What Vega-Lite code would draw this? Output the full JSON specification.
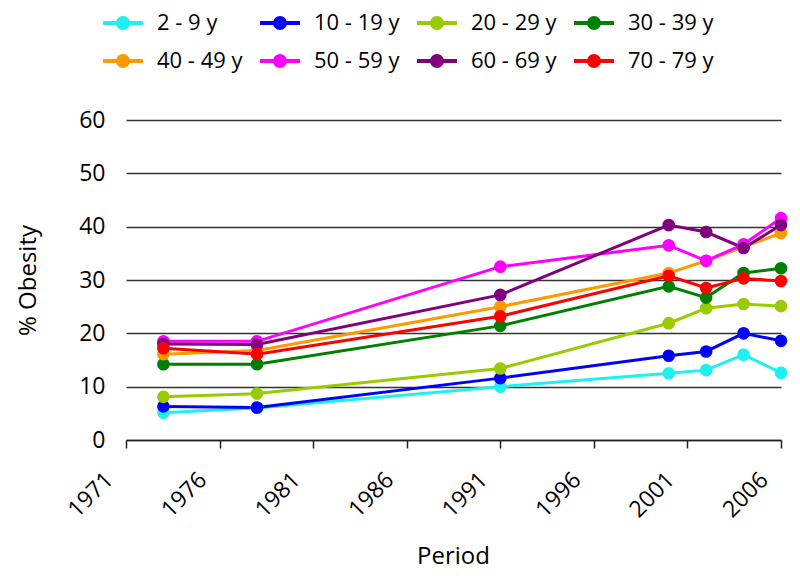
{
  "$schema": "https://vega.github.io/schema/vega-lite/v6.json",
  "width": 655,
  "height": 320,
  "autosize": "none",
  "padding": {"left": 126, "top": 120, "right": 19, "bottom": 147},
  "background": "white",
  "config": {
    "font": "Open Sans",
    "view": {"stroke": null}
  },
  "data": {
    "values": [
      {"period": 1973, "group": "2 - 9 y", "obesity": 5.1},
      {"period": 1978, "group": "2 - 9 y", "obesity": 6.0},
      {"period": 1991, "group": "2 - 9 y", "obesity": 10.0},
      {"period": 2000, "group": "2 - 9 y", "obesity": 12.5},
      {"period": 2002, "group": "2 - 9 y", "obesity": 13.1},
      {"period": 2004, "group": "2 - 9 y", "obesity": 16.0},
      {"period": 2006, "group": "2 - 9 y", "obesity": 12.6},
      {"period": 1973, "group": "10 - 19 y", "obesity": 6.3},
      {"period": 1978, "group": "10 - 19 y", "obesity": 6.1},
      {"period": 1991, "group": "10 - 19 y", "obesity": 11.6},
      {"period": 2000, "group": "10 - 19 y", "obesity": 15.8},
      {"period": 2002, "group": "10 - 19 y", "obesity": 16.6},
      {"period": 2004, "group": "10 - 19 y", "obesity": 20.0},
      {"period": 2006, "group": "10 - 19 y", "obesity": 18.6},
      {"period": 1973, "group": "20 - 29 y", "obesity": 8.1},
      {"period": 1978, "group": "20 - 29 y", "obesity": 8.7},
      {"period": 1991, "group": "20 - 29 y", "obesity": 13.4},
      {"period": 2000, "group": "20 - 29 y", "obesity": 21.9},
      {"period": 2002, "group": "20 - 29 y", "obesity": 24.7},
      {"period": 2004, "group": "20 - 29 y", "obesity": 25.5},
      {"period": 2006, "group": "20 - 29 y", "obesity": 25.1},
      {"period": 1973, "group": "30 - 39 y", "obesity": 14.2},
      {"period": 1978, "group": "30 - 39 y", "obesity": 14.2},
      {"period": 1991, "group": "30 - 39 y", "obesity": 21.4},
      {"period": 2000, "group": "30 - 39 y", "obesity": 28.8},
      {"period": 2002, "group": "30 - 39 y", "obesity": 26.7},
      {"period": 2004, "group": "30 - 39 y", "obesity": 31.3},
      {"period": 2006, "group": "30 - 39 y", "obesity": 32.2},
      {"period": 1973, "group": "40 - 49 y", "obesity": 16.1},
      {"period": 1978, "group": "40 - 49 y", "obesity": 16.8},
      {"period": 1991, "group": "40 - 49 y", "obesity": 25.0},
      {"period": 2000, "group": "40 - 49 y", "obesity": 31.3},
      {"period": 2002, "group": "40 - 49 y", "obesity": 33.6},
      {"period": 2004, "group": "40 - 49 y", "obesity": 36.2},
      {"period": 2006, "group": "40 - 49 y", "obesity": 38.8},
      {"period": 1973, "group": "50 - 59 y", "obesity": 18.5},
      {"period": 1978, "group": "50 - 59 y", "obesity": 18.5},
      {"period": 1991, "group": "50 - 59 y", "obesity": 32.5},
      {"period": 2000, "group": "50 - 59 y", "obesity": 36.5},
      {"period": 2002, "group": "50 - 59 y", "obesity": 33.6},
      {"period": 2004, "group": "50 - 59 y", "obesity": 36.7},
      {"period": 2006, "group": "50 - 59 y", "obesity": 41.6},
      {"period": 1973, "group": "60 - 69 y", "obesity": 18.0},
      {"period": 1978, "group": "60 - 69 y", "obesity": 17.9},
      {"period": 1991, "group": "60 - 69 y", "obesity": 27.2},
      {"period": 2000, "group": "60 - 69 y", "obesity": 40.3},
      {"period": 2002, "group": "60 - 69 y", "obesity": 39.0},
      {"period": 2004, "group": "60 - 69 y", "obesity": 36.0},
      {"period": 2006, "group": "60 - 69 y", "obesity": 40.3},
      {"period": 1973, "group": "70 - 79 y", "obesity": 17.2},
      {"period": 1978, "group": "70 - 79 y", "obesity": 16.1},
      {"period": 1991, "group": "70 - 79 y", "obesity": 23.2},
      {"period": 2000, "group": "70 - 79 y", "obesity": 30.8},
      {"period": 2002, "group": "70 - 79 y", "obesity": 28.5},
      {"period": 2004, "group": "70 - 79 y", "obesity": 30.3},
      {"period": 2006, "group": "70 - 79 y", "obesity": 29.8}
    ]
  },
  "mark": {
    "type": "line",
    "strokeWidth": 3,
    "point": {"filled": true, "size": 160, "opacity": 1}
  },
  "encoding": {
    "x": {
      "field": "period",
      "type": "quantitative",
      "title": "Period",
      "scale": {"domain": [1971, 2006], "nice": false, "zero": false},
      "axis": {
        "values": [1971, 1976, 1981, 1986, 1991, 1996, 2001, 2006],
        "format": "d",
        "grid": false,
        "domainColor": "#222222",
        "domainWidth": 1.5,
        "tickColor": "#222222",
        "tickWidth": 1.5,
        "tickSize": 8,
        "labelAngle": -45,
        "labelAlign": "right",
        "labelBaseline": "middle",
        "labelFontSize": 23,
        "labelColor": "#000000",
        "labelPadding": 28,
        "labelOffset": -17,
        "labelOverlap": false,
        "labelFlush": false,
        "titleFontSize": 24,
        "titleFontWeight": "normal",
        "titleColor": "#000000",
        "titleX": 327,
        "titleY": 116,
        "titleBaseline": "middle"
      }
    },
    "y": {
      "field": "obesity",
      "type": "quantitative",
      "title": "% Obesity",
      "scale": {"domain": [0, 60], "nice": false},
      "axis": {
        "values": [0, 10, 20, 30, 40, 50, 60],
        "domain": false,
        "ticks": false,
        "grid": true,
        "gridColor": "#333333",
        "gridWidth": 1.5,
        "gridOpacity": 1,
        "labelFontSize": 23,
        "labelColor": "#000000",
        "labelPadding": 21,
        "titleFontSize": 24,
        "titleFontWeight": "normal",
        "titleColor": "#000000",
        "titleX": -98,
        "titleY": 160,
        "titleAngle": -90,
        "titleBaseline": "middle",
        "titleAlign": "center"
      }
    },
    "color": {
      "field": "group",
      "type": "nominal",
      "scale": {
        "domain": ["2 - 9 y", "10 - 19 y", "20 - 29 y", "30 - 39 y", "40 - 49 y", "50 - 59 y", "60 - 69 y", "70 - 79 y"],
        "range": ["#1ef0f0", "#0000ff", "#99cc00", "#008000", "#ff9900", "#ff00ff", "#800080", "#ff0000"]
      },
      "legend": {
        "title": null,
        "orient": "none",
        "legendX": -25,
        "legendY": -119,
        "direction": "horizontal",
        "columns": 4,
        "padding": 0,
        "columnPadding": 9,
        "rowPadding": 3,
        "symbolType": "M-1,0L1,0M-0.25,0A0.25,0.25,0,1,0,0.25,0A0.25,0.25,0,1,0,-0.25,0Z",
        "symbolSize": 1600,
        "symbolStrokeWidth": 4,
        "labelFontSize": 22,
        "labelColor": "#000000",
        "labelOffset": 12,
        "labelLimit": 300,
        "encode": {
          "symbols": {
            "update": {
              "fill": {"scale": "color", "field": "value"},
              "stroke": {"scale": "color", "field": "value"},
              "opacity": {"value": 1}
            }
          }
        }
      }
    },
    "strokeWidth": {
      "condition": {"test": "datum.group === '2 - 9 y'", "value": 5},
      "value": 3
    },
    "order": {"field": "period", "type": "quantitative"}
  }
}
